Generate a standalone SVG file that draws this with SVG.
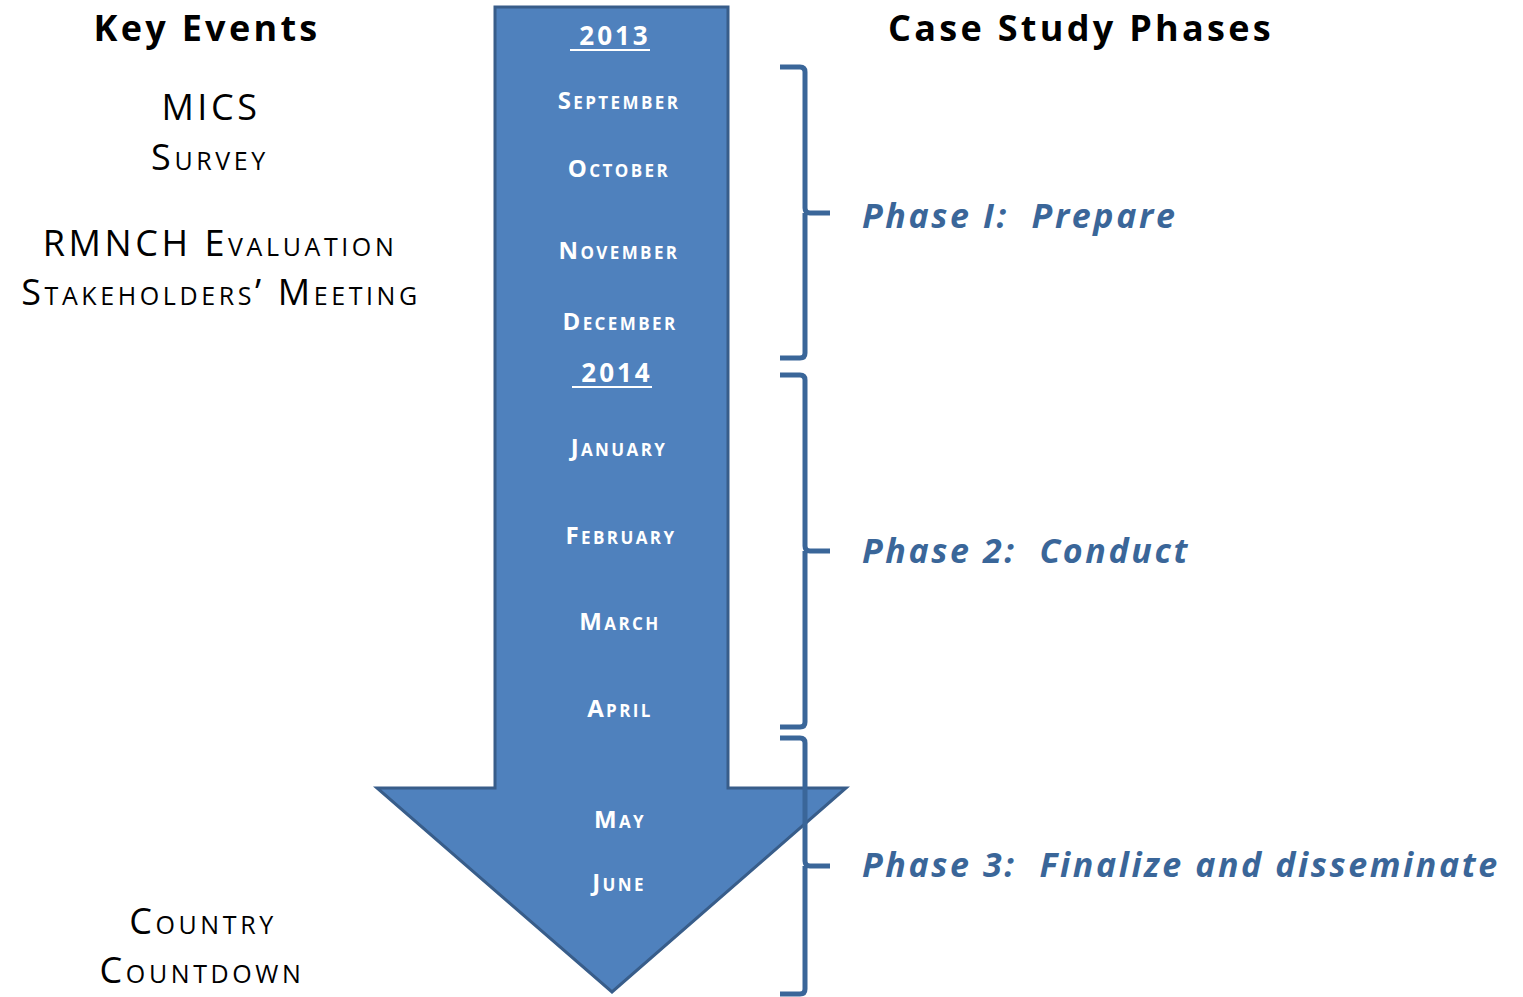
<svg xmlns="http://www.w3.org/2000/svg" width="1523" height="997" viewBox="0 0 1523 997">
<style>
.hdr{font-family:"Open Sans","Liberation Sans",sans-serif;font-weight:bold;font-size:36px;fill:#000;text-anchor:middle;letter-spacing:3.3px}
.ev{font-family:"Open Sans","Liberation Sans",sans-serif;font-size:36px;fill:#000;text-anchor:middle;font-variant:small-caps;letter-spacing:3.6px}
.mo{font-family:"Open Sans","Liberation Sans",sans-serif;font-weight:bold;font-size:24px;fill:#fff;text-anchor:middle;font-variant:small-caps;letter-spacing:2.4px}
.yr{font-family:"Open Sans","Liberation Sans",sans-serif;font-weight:bold;font-size:26px;fill:#fff;text-anchor:middle;letter-spacing:3px}
.ph{font-family:"Open Sans","Liberation Sans",sans-serif;font-weight:bold;font-style:italic;font-size:34px;fill:#3A6699;letter-spacing:2.6px;white-space:pre}
.brace{fill:none;stroke:#3A6699;stroke-width:5;stroke-linejoin:round}
</style>
<rect width="1523" height="997" fill="#fff"/>
<g id="arrow">
<polygon points="495,7 728,7 728,788 846,788 612,992 377,788 495,788" fill="#4F81BD" stroke="#385D8A" stroke-width="3"/>
</g>
<g id="headers">
<text class="hdr" x="207" y="41">Key Events</text>
<text class="hdr" x="1081" y="41">Case Study Phases</text>
</g>
<g id="events">
<text class="ev" x="211" y="120">MICS</text>
<text class="ev" x="210" y="170">Survey</text>
<text class="ev" x="220" y="256">RMNCH Evaluation</text>
<text class="ev" x="221" y="305">Stakeholders’ Meeting</text>
<text class="ev" x="203" y="934">Country</text>
<text class="ev" x="202" y="983">Countdown</text>
</g>
<g id="months">
<text class="yr" x="615" y="45">2013</text>
<line x1="570" y1="50" x2="650" y2="50" stroke="#fff" stroke-width="2"/>
<text class="mo" x="619" y="109">September</text>
<text class="mo" x="619" y="177">October</text>
<text class="mo" x="619" y="259">November</text>
<text class="mo" x="620" y="330">December</text>
<text class="yr" x="617" y="382">2014</text>
<line x1="572" y1="387" x2="652" y2="387" stroke="#fff" stroke-width="2"/>
<text class="mo" x="619" y="456">January</text>
<text class="mo" x="621" y="544">February</text>
<text class="mo" x="620" y="630">March</text>
<text class="mo" x="620" y="717">April</text>
<text class="mo" x="620" y="828">May</text>
<text class="mo" x="619" y="891">June</text>
</g>
<g id="connectors">
<path class="brace" d="M780,67 L800,67 Q805,67 805,72 L805,208 Q805,213 810,213 L830,213 M805,213 L805,353 Q805,358 800,358 L780,358"/>
<path class="brace" d="M780,375 L800,375 Q805,375 805,380 L805,546 Q805,551 810,551 L830,551 M805,551 L805,722 Q805,727 800,727 L780,727"/>
<path class="brace" d="M780,738 L800,738 Q805,738 805,743 L805,861 Q805,866 810,866 L830,866 M805,866 L805,989 Q805,994 800,994 L780,994"/>
</g>
<g id="phases">
<text class="ph" x="862" y="228" xml:space="preserve">Phase I:  Prepare</text>
<text class="ph" x="862" y="563" xml:space="preserve">Phase 2:  Conduct</text>
<text class="ph" x="862" y="877" xml:space="preserve">Phase 3:  Finalize and disseminate</text>
</g>
</svg>
